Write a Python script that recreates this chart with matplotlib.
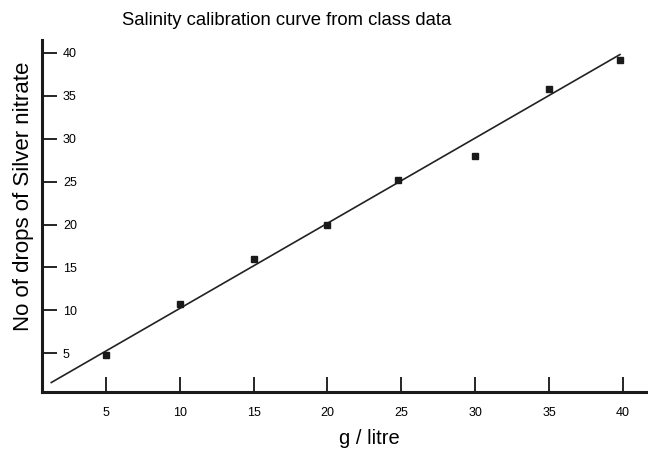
import numpy as np
import matplotlib.pyplot as plt

plt.rcParams['font.family'] = ['Liberation Sans', 'DejaVu Sans']

# class data: salinity (g/litre) vs drops of silver nitrate
salinity = [5, 10, 15, 20, 24.8, 30, 35, 39.8]
drops = [4.8, 10.8, 16.0, 20.0, 25.2, 28.0, 35.8, 39.2]
# calibration line as drawn
fit_x = [1.3, 39.8]
fit_y = [1.6, 39.8]
ticks = [5, 10, 15, 20, 25, 30, 35, 40]

fig = plt.figure(figsize=(6.48, 4.49), dpi=100)
ax = fig.add_axes([0.065, 0.127, 0.935, 0.784])

ax.plot(fit_x, fit_y, color='#222222', linewidth=1.2)
ax.plot(salinity, drops, 's', color='#1a1a1a', markersize=4.5)

ax.set_xlim(0.68, 41.7)
ax.set_ylim(0.5, 41.5)
ax.set_xticks(ticks)
ax.set_yticks(ticks)

for side in ['top', 'right']:
    ax.spines[side].set_visible(False)
for side in ['left', 'bottom']:
    ax.spines[side].set_linewidth(2.2)
    ax.spines[side].set_color('#1a1a1a')

ax.tick_params(axis='x', direction='in', length=11, width=1.2, pad=11, labelsize=9)
ax.tick_params(axis='y', direction='in', length=11, width=1.2, pad=-15, labelsize=9)
for lbl in ax.get_yticklabels():
    lbl.set_horizontalalignment('left')

ax.set_xlabel('g / litre', fontsize=14.5)
ax.xaxis.set_label_coords(0.54, -0.105)
ax.set_ylabel('No of drops of Silver nitrate', fontsize=16)
ax.yaxis.set_label_coords(-0.014, 0.555)
fig.text(0.442, 0.955, 'Salinity calibration curve from class data', fontsize=13.3,
         ha='center', va='center')

plt.savefig('out.png', dpi=100)
